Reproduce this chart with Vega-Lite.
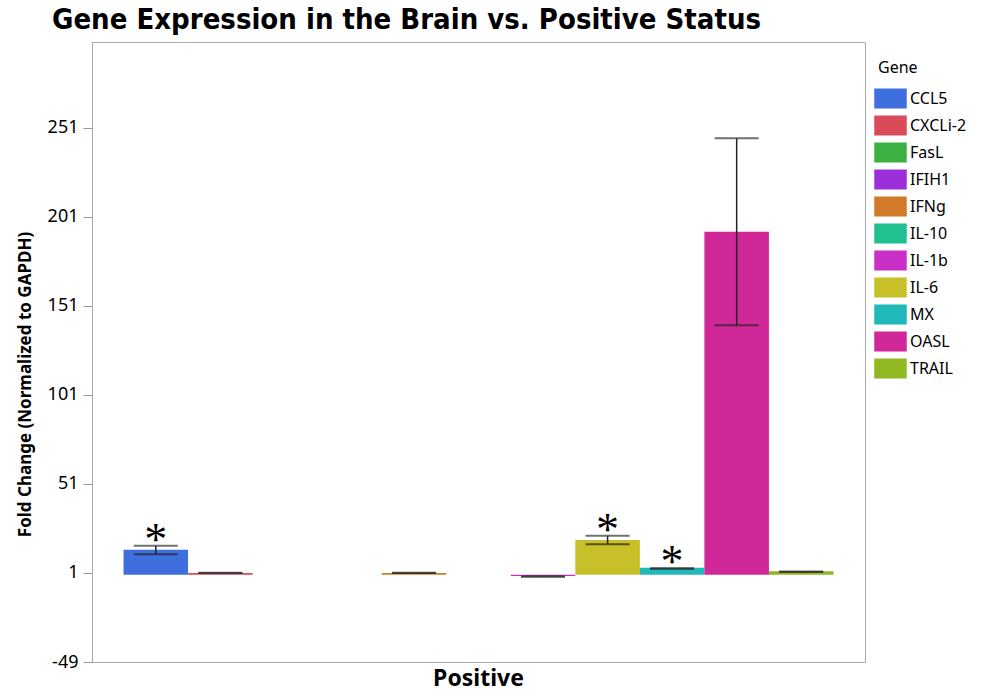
{
  "$schema": "https://vega.github.io/schema/vega-lite/v6.json",
  "width": 773,
  "height": 620,
  "autosize": {"type": "none"},
  "padding": {"left": 92, "top": 42, "right": 116, "bottom": 36},
  "background": "white",
  "title": {
    "text": "Gene Expression in the Brain vs. Positive Status",
    "anchor": "start",
    "frame": "group",
    "dx": -40,
    "offset": 7,
    "font": "DejaVu Sans Condensed",
    "fontSize": 29,
    "fontWeight": "bold",
    "color": "#000000"
  },
  "config": {
    "view": {"stroke": "#a8a8a8", "strokeWidth": 1},
    "font": "Noto Sans"
  },
  "data": {
    "values": [
      {"Status": "Positive", "Gene": "CCL5", "Mean": 14, "Lo": 11.5, "Hi": 16.3, "Sig": "*"},
      {"Status": "Positive", "Gene": "CXCLi-2", "Mean": 1.0, "Lo": 0.9, "Hi": 1.1, "Sig": ""},
      {"Status": "Positive", "Gene": "FasL", "Mean": null, "Lo": null, "Hi": null, "Sig": ""},
      {"Status": "Positive", "Gene": "IFIH1", "Mean": null, "Lo": null, "Hi": null, "Sig": ""},
      {"Status": "Positive", "Gene": "IFNg", "Mean": 1.0, "Lo": 0.9, "Hi": 1.1, "Sig": ""},
      {"Status": "Positive", "Gene": "IL-10", "Mean": null, "Lo": null, "Hi": null, "Sig": ""},
      {"Status": "Positive", "Gene": "IL-1b", "Mean": -0.7, "Lo": -1.1, "Hi": -0.9, "Sig": ""},
      {"Status": "Positive", "Gene": "IL-6", "Mean": 19.5, "Lo": 17.1, "Hi": 21.8, "Sig": "*"},
      {"Status": "Positive", "Gene": "MX", "Mean": 3.9, "Lo": 3.3, "Hi": 3.6, "Sig": "*"},
      {"Status": "Positive", "Gene": "OASL", "Mean": 192.5, "Lo": 140, "Hi": 245, "Sig": ""},
      {"Status": "Positive", "Gene": "TRAIL", "Mean": 2.0, "Lo": 1.5, "Hi": 1.8, "Sig": ""}
    ]
  },
  "encoding": {
    "x": {
      "field": "Status",
      "type": "nominal",
      "scale": {"paddingInner": 0, "paddingOuter": 0.0444},
      "axis": {
        "title": null,
        "ticks": false,
        "domain": false,
        "labelAngle": 0,
        "labelFont": "Noto Sans",
        "labelFontSize": 23,
        "labelFontWeight": "bold",
        "labelColor": "#000000",
        "labelPadding": 5
      }
    },
    "xOffset": {
      "field": "Gene",
      "type": "nominal",
      "scale": {
        "domain": ["CCL5", "CXCLi-2", "FasL", "IFIH1", "IFNg", "IL-10", "IL-1b", "IL-6", "MX", "OASL", "TRAIL"],
        "paddingInner": 0,
        "paddingOuter": 0
      }
    }
  },
  "layer": [
    {
      "mark": {"type": "bar", "stroke": null},
      "encoding": {
        "y": {
          "field": "Mean",
          "type": "quantitative",
          "scale": {"domain": [-49, 299], "nice": false, "zero": false},
          "axis": {
            "values": [-49, 1, 51, 101, 151, 201, 251],
            "labelExpr": "'' + datum.value",
            "grid": false,
            "domain": false,
            "tickColor": "#999999",
            "tickSize": 9,
            "labelFont": "Noto Sans",
            "labelFontSize": 18,
            "labelColor": "#000000",
            "labelPadding": 5,
            "title": "Fold Change (Normalized to GAPDH)",
            "titleFont": "Noto Sans",
            "titleFontSize": 17,
            "titleFontWeight": "bold",
            "titleColor": "#000000",
            "titleAngle": -90,
            "titleX": -67,
            "titleY": 342,
            "titleAlign": "center",
            "titleBaseline": "middle"
          }
        },
        "y2": {"datum": 0},
        "color": {
          "field": "Gene",
          "type": "nominal",
          "scale": {
            "domain": ["CCL5", "CXCLi-2", "FasL", "IFIH1", "IFNg", "IL-10", "IL-1b", "IL-6", "MX", "OASL", "TRAIL"],
            "range": ["#3f6fde", "#d94a5a", "#3cb043", "#9b30d9", "#d07a2a", "#20c090", "#c830c8", "#c8c028", "#20b8b8", "#d02898", "#90b820"]
          },
          "legend": {
            "orient": "none",
            "legendX": 786,
            "legendY": 18,
            "title": "Gene",
            "titleFont": "Noto Sans",
            "titleFontSize": 16,
            "titleFontWeight": "normal",
            "titleColor": "#000000",
            "titlePadding": 10,
            "labelFont": "Noto Sans",
            "labelFontSize": 16,
            "labelColor": "#000000",
            "symbolType": "M-1.3,-0.8H1.3V0.8H-1.3Z",
            "symbolSize": 625,
            "symbolStrokeWidth": 0,
            "symbolOpacity": 1,
            "rowPadding": 4,
            "labelOffset": 7,
            "padding": 0
          }
        }
      }
    },
    {
      "mark": {"type": "rule", "color": "#222222", "strokeWidth": 1.5},
      "encoding": {
        "y": {"field": "Lo", "type": "quantitative"},
        "y2": {"field": "Hi"}
      }
    },
    {
      "mark": {"type": "tick", "color": "#222222", "size": 44, "thickness": 2},
      "encoding": {
        "y": {"field": "Lo", "type": "quantitative"}
      }
    },
    {
      "mark": {"type": "tick", "color": "#333333", "size": 44, "thickness": 2},
      "encoding": {
        "y": {"field": "Hi", "type": "quantitative"}
      }
    },
    {
      "mark": {"type": "text", "font": "Liberation Serif", "fontSize": 46, "baseline": "middle", "dy": -5, "color": "#000000"},
      "encoding": {
        "y": {"field": "Hi", "type": "quantitative"},
        "text": {"field": "Sig"}
      }
    }
  ]
}
